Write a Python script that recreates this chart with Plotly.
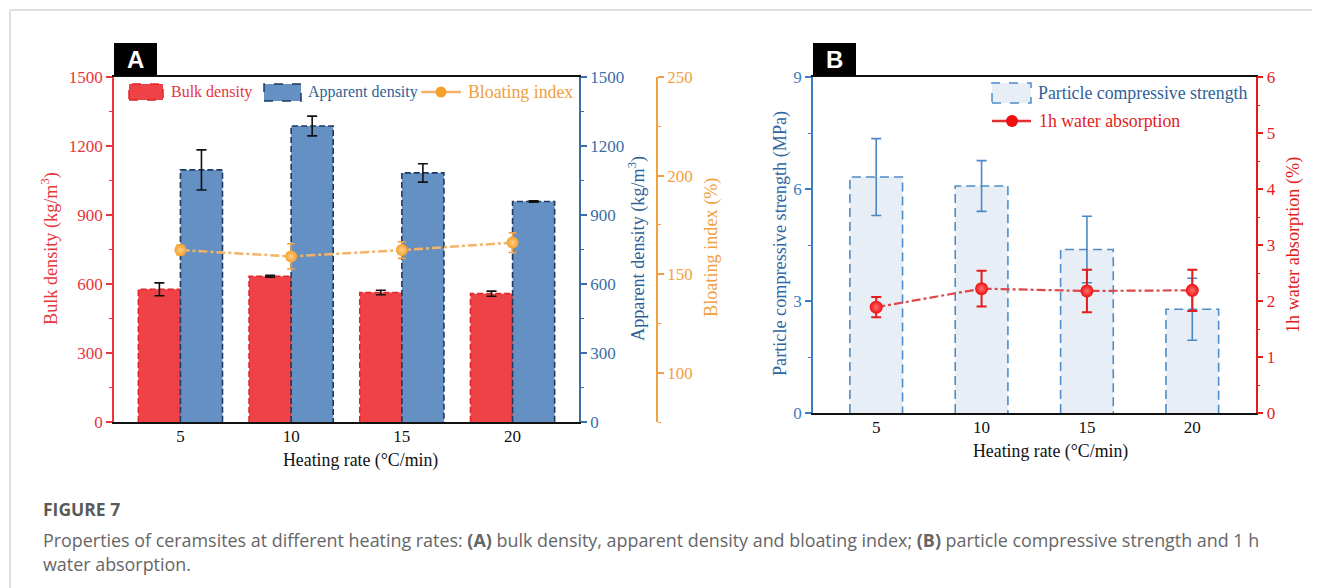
import plotly.graph_objects as go

W, H = 1320, 588
OFF = 8  # default page body margin in the browser

# ---------------- data ----------------
heating_rates = [5, 10, 15, 20]
tick_labels = ["5", "10", "15", "20"]

bulk_density = [577, 634, 563, 558]
bulk_density_err = [28, 4, 10, 11]
apparent_density = [1096, 1287, 1083, 959]
apparent_density_err = [87, 43, 40, 3]
bloating_index = [162.2, 159.0, 162.2, 166.0]
bloating_index_err = [2.5, 6.4, 4.2, 5.0]

compressive_strength = [6.32, 6.08, 4.38, 2.78]
compressive_strength_err = [1.03, 0.68, 0.89, 0.83]
water_absorption = [1.89, 2.22, 2.18, 2.19]
water_absorption_err = [0.18, 0.32, 0.38, 0.37]

# ---------------- styles ----------------
SERIF = "Liberation Serif, Times New Roman, serif"
RED = "#e8353b"
RED_FILL = "#ef4246"
BLUE_T = "#2f5f98"
BLUE_FILL = "#6590c3"
NAVY = "#1e3a60"
ORANGE = "#f0a040"
B_BLUE = "#3d7dbf"
B_RED = "#e41b1b"

BARGAP_A = 0.24
BAR_W_A = 5 * (1 - BARGAP_A) / 2
BAR_W_B = 2.5


def px(x):
    return (x - OFF) / W


def py(y):
    return 1 - (y - OFF) / H


def outline(vals, x_off, w):
    xs, ys = [], []
    for c, v in zip(heating_rates, vals):
        x0 = c + x_off
        x1 = x0 + w
        xs += [x0, x0, x1, x1, None]
        ys += [0, v, v, 0, None]
    return xs, ys


fig = go.Figure()

# ---------- Panel A ----------
fig.add_trace(go.Bar(x=heating_rates, y=bulk_density, name="Bulk density",
                     marker=dict(color=RED_FILL, line=dict(width=0)),
                     offsetgroup="r", alignmentgroup="A",
                     xaxis="x", yaxis="y", showlegend=False))
fig.add_trace(go.Bar(x=heating_rates, y=apparent_density, name="Apparent density",
                     marker=dict(color=BLUE_FILL, line=dict(width=0)),
                     offsetgroup="b", alignmentgroup="A",
                     xaxis="x", yaxis="y2", showlegend=False))
ox, oy = outline(bulk_density, -BAR_W_A, BAR_W_A)
fig.add_trace(go.Scatter(x=ox, y=oy, mode="lines", xaxis="x", yaxis="y",
                         line=dict(color="#e0262b", width=1.6, dash="6px,3px"),
                         hoverinfo="skip", showlegend=False))
fig.add_trace(go.Scatter(x=[c - BAR_W_A / 2 for c in heating_rates], y=bulk_density,
                         mode="markers", marker=dict(size=1, opacity=0),
                         error_y=dict(type="data", array=bulk_density_err, color="#111111",
                                      thickness=1.6, width=5),
                         xaxis="x", yaxis="y", showlegend=False, hoverinfo="skip"))
ox, oy = outline(apparent_density, 0, BAR_W_A)
fig.add_trace(go.Scatter(x=ox, y=oy, mode="lines", xaxis="x", yaxis="y2",
                         line=dict(color=NAVY, width=1.6, dash="6px,3px"),
                         hoverinfo="skip", showlegend=False))
fig.add_trace(go.Scatter(x=[c + BAR_W_A / 2 for c in heating_rates], y=apparent_density,
                         mode="markers", marker=dict(size=1, opacity=0),
                         error_y=dict(type="data", array=apparent_density_err, color="#111111",
                                      thickness=1.6, width=5),
                         xaxis="x", yaxis="y2", showlegend=False, hoverinfo="skip"))
fig.add_trace(go.Scatter(x=heating_rates, y=bloating_index, name="Bloating index",
                         mode="lines+markers", xaxis="x", yaxis="y3",
                         line=dict(color="#f3b46a", width=2.5, dash="dashdot"),
                         marker=dict(color="#f5a02c", size=12,
                                     gradient=dict(type="radial", color="#ffcf8a")),
                         error_y=dict(type="data", array=bloating_index_err, color=ORANGE,
                                      thickness=1.6, width=4),
                         showlegend=False))

# ---------- Panel B ----------
fig.add_trace(go.Bar(x=heating_rates, y=compressive_strength, name="Particle compressive strength",
                     width=BAR_W_B, marker=dict(color="#e8eef5", line=dict(width=0)),
                     xaxis="x2", yaxis="y4", showlegend=False))
ox, oy = outline(compressive_strength, -BAR_W_B / 2, BAR_W_B)
fig.add_trace(go.Scatter(x=ox, y=oy, mode="lines", xaxis="x2", yaxis="y4",
                         line=dict(color="#4d8cc8", width=1.6, dash="9px,5px"),
                         hoverinfo="skip", showlegend=False))
fig.add_trace(go.Scatter(x=heating_rates, y=compressive_strength,
                         mode="markers", marker=dict(size=1, opacity=0),
                         error_y=dict(type="data", array=compressive_strength_err, color="#4a88c6",
                                      thickness=1.6, width=5),
                         xaxis="x2", yaxis="y4", showlegend=False, hoverinfo="skip"))
fig.add_trace(go.Scatter(x=heating_rates, y=water_absorption, name="1h water absorption",
                         mode="lines+markers", xaxis="x2", yaxis="y5",
                         line=dict(color="#dc4848", width=2.2, dash="dashdot"),
                         marker=dict(color="#ee1010", size=13,
                                     gradient=dict(type="radial", color="#ff7070")),
                         error_y=dict(type="data", array=water_absorption_err, color=B_RED,
                                      thickness=2, width=5),
                         showlegend=False))

# ---------- axes ----------
tickfont = lambda c: dict(family=SERIF, size=17, color=c)


def yax(color, rng, dtick, minor_dtick, **kw):
    d = dict(range=rng, tickmode="linear", tick0=0, dtick=dtick, showline=True,
             linecolor=color, linewidth=1.5, ticks="outside", ticklen=6, tickwidth=1.5,
             tickcolor=color, tickfont=tickfont(color), showgrid=False, zeroline=False,
             automargin=False,
             minor=dict(ticks="outside", ticklen=3, tickwidth=1.2, tickcolor=color,
                        dtick=minor_dtick, tick0=0, showgrid=False))
    d.update(kw)
    return d


xcommon = dict(range=[2, 23], tickmode="array", tickvals=heating_rates, ticktext=tick_labels,
               showline=True, linecolor="#111111", linewidth=1.5, mirror=True, ticks="",
               tickfont=tickfont("#111111"), showgrid=False, zeroline=False,
               automargin=False, ticklabelstandoff=-2)

fig.update_layout(
    width=W, height=H,
    margin=dict(l=0, r=0, t=0, b=0, pad=0, autoexpand=False),
    paper_bgcolor="white", plot_bgcolor="white",
    showlegend=False,
    barmode="group", bargap=BARGAP_A, bargroupgap=0,
    xaxis=dict(domain=[px(114), px(579)], anchor="y", **xcommon),
    yaxis=yax(RED, [0, 1500], 300, 150, domain=[py(422), py(77)], anchor="x"),
    yaxis2=yax("#3a6ea8", [0, 1500], 300, 150, overlaying="y", side="right", anchor="x"),
    yaxis3=yax(ORANGE, [75, 250], 50, 25, overlaying="y", side="right", anchor="free",
               position=px(657)),
    xaxis2=dict(domain=[px(813), px(1255.5)], anchor="y4", **xcommon),
    yaxis4=yax(B_BLUE, [0, 9], 3, 1.5, domain=[py(413), py(77)], anchor="x2"),
    yaxis5=yax(B_RED, [0, 6], 1, 0.5, overlaying="y4", side="right", anchor="x2"),
)

shapes = []
annotations = []


def text(x, y, s, color, size=17, angle=0, xanchor="center", family=SERIF, **kw):
    annotations.append(dict(x=px(x), y=py(y), xref="paper", yref="paper", text=s,
                            showarrow=False, textangle=angle, xanchor=xanchor,
                            yanchor="middle", font=dict(family=family, size=size, color=color),
                            **kw))


# page frame
shapes.append(dict(type="line", xref="paper", yref="paper", x0=px(10), x1=1, y0=py(10), y1=py(10),
                   line=dict(color="#d6d6d6", width=1.5)))
shapes.append(dict(type="line", xref="paper", yref="paper", x0=px(10), x1=px(10), y0=0, y1=py(10),
                   line=dict(color="#d6d6d6", width=1.5)))

# panel letters
for lx, letter in [(114, "A"), (813, "B")]:
    shapes.append(dict(type="rect", xref="paper", yref="paper", x0=px(lx), x1=px(lx + 43),
                       y0=py(76), y1=py(43), fillcolor="black", line=dict(width=0)))
    text(lx + 21.5, 60, "<b>%s</b>" % letter, "white", size=24,
         family="Liberation Sans, Arial, sans-serif")

# axis titles
TT = 18.2
text(50, 248, "Bulk density (kg/m<sup>3</sup>)", RED, size=TT, angle=-90)
text(637, 249, "Apparent density (kg/m<sup>3</sup>)", BLUE_T, size=TT, angle=-90)
text(711, 248, "Bloating index (%)", ORANGE, size=TT, angle=-90)
text(361, 460, "Heating rate (°C/min)", "#111111", size=17.8)
text(780, 244, "Particle compressive strength (MPa)", "#2f66a3", size=TT, angle=-90)
text(1293, 245, "1h water absorption (%)", B_RED, size=TT, angle=-90)
text(1050, 451, "Heating rate (°C/min)", "#111111", size=17.8)

# legend A
shapes.append(dict(type="rect", xref="paper", yref="paper", x0=px(129), x1=px(163),
                   y0=py(100), y1=py(84), fillcolor=RED_FILL,
                   line=dict(color="#e0262b", width=1.5, dash="dash")))
text(169, 92, "Bulk density", RED, size=16, xanchor="left")
shapes.append(dict(type="rect", xref="paper", yref="paper", x0=px(264), x1=px(301),
                   y0=py(101), y1=py(84), fillcolor=BLUE_FILL,
                   line=dict(color=NAVY, width=1.5, dash="dash")))
text(306, 92, "Apparent density", BLUE_T, size=16, xanchor="left")
shapes.append(dict(type="line", xref="paper", yref="paper", x0=px(421), x1=px(461),
                   y0=py(92), y1=py(92), line=dict(color="#f3b46a", width=2.5)))
shapes.append(dict(type="circle", xref="paper", yref="paper", x0=px(435.5), x1=px(446.5),
                   y0=py(97.5), y1=py(86.5), fillcolor="#f5a02c", line=dict(width=0)))
text(466, 92, "Bloating index", ORANGE, size=17.8, xanchor="left")

# legend B
shapes.append(dict(type="rect", xref="paper", yref="paper", x0=px(992), x1=px(1031),
                   y0=py(103), y1=py(83), fillcolor="#e8eef5",
                   line=dict(color="#4d8cc8", width=1.5, dash="dash")))
text(1036, 93, "Particle compressive strength", BLUE_T, size=17.8, xanchor="left")
shapes.append(dict(type="line", xref="paper", yref="paper", x0=px(992), x1=px(1031),
                   y0=py(121), y1=py(121), line=dict(color="#e03030", width=2.5)))
shapes.append(dict(type="circle", xref="paper", yref="paper", x0=px(1006), x1=px(1018),
                   y0=py(127), y1=py(115), fillcolor="#ee1010", line=dict(width=0)))
text(1037, 121, "1h water absorption", B_RED, size=17.8, xanchor="left")

# caption
CAP = "Open Sans, Lato, sans-serif"
text(41, 509, "<b>FIGURE 7</b>", "#5a5a5a", size=17.5, xanchor="left", family=CAP)
text(41, 540, "Properties of ceramsites at different heating rates: <b>(A)</b> bulk density, "
     "apparent density and bloating index; <b>(B)</b> particle compressive strength and 1 h",
     "#666666", size=17.9, xanchor="left", family=CAP)
text(41, 564, "water absorption.", "#666666", size=17.9, xanchor="left", family=CAP)

fig.update_layout(shapes=shapes, annotations=annotations)
fig.write_html("out.html")
